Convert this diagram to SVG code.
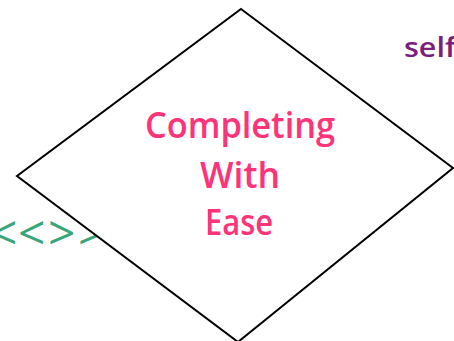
<svg xmlns="http://www.w3.org/2000/svg" width="454" height="341" viewBox="0 0 454 341">
<style>
.lbl{font-family:"Open Sans","DejaVu Sans",sans-serif;}
.main{fill:#ff3377;font-size:36px;font-weight:600;text-anchor:middle;}
</style>
<rect width="454" height="341" fill="#ffffff"/>
<g id="edge-label">
<text class="lbl" y="250" fill="#3aa57a" font-size="48" font-weight="400"><tspan x="-10">&lt;</tspan><tspan x="18">&lt;</tspan><tspan x="48">&gt;</tspan><tspan x="78">&gt;</tspan></text>
</g>
<g id="self-label">
<text class="lbl" x="404" y="57" fill="#7a1f7a" font-size="27" font-weight="600" textLength="52" lengthAdjust="spacingAndGlyphs">self</text>
</g>
<g id="connectors"></g>
<g id="decision">
<polygon points="241,9 453,168 238,342 17,176" fill="#ffffff" stroke="#000000" stroke-width="2"/>
<text class="lbl main" x="240" y="138" textLength="190" lengthAdjust="spacingAndGlyphs">Completing</text>
<text class="lbl main" x="240" y="188" textLength="80" lengthAdjust="spacingAndGlyphs">With</text>
<text class="lbl main" x="239" y="235" textLength="68" lengthAdjust="spacingAndGlyphs">Ease</text>
</g>
</svg>
